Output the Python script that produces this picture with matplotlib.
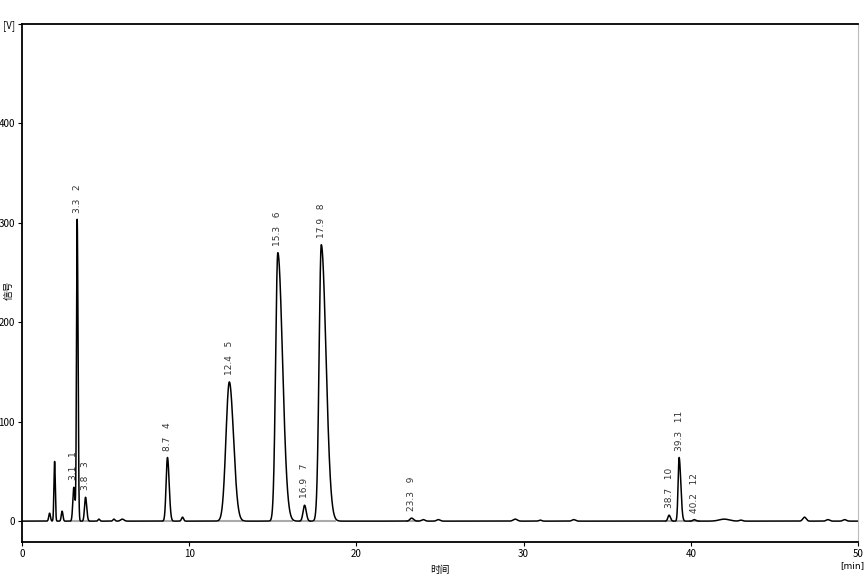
import numpy as np
import matplotlib
matplotlib.use('Agg')
import matplotlib.pyplot as plt

plt.rcParams['font.family'] = ['Noto Sans CJK SC', 'DejaVu Sans']

# labelled peaks: retention time [min], height [V], left/right width [min], number
peak_rt = [3.1, 3.3, 3.8, 8.7, 12.4, 15.3, 16.9, 17.9, 23.3, 38.7, 39.3, 40.2]
peak_h = [34, 303, 24, 64, 140, 270, 16, 278, 3, 6, 64, 1.5]
peak_wl = [0.06, 0.04, 0.06, 0.08, 0.2, 0.13, 0.09, 0.13, 0.1, 0.07, 0.06, 0.08]
peak_wr = [0.07, 0.05, 0.07, 0.1, 0.25, 0.28, 0.1, 0.28, 0.12, 0.08, 0.1, 0.1]
peak_no = [1, 2, 3, 4, 5, 6, 7, 8, 9, 10, 11, 12]

# unlabelled small peaks
small_rt = [1.65, 1.95, 2.4, 4.6, 5.5, 6.0, 9.6, 24.0, 24.9, 29.5, 31.0, 33.0, 42.0, 43.0, 46.8, 48.2, 49.2]
small_h = [8, 60, 10, 2, 2, 2, 4, 1.5, 1.5, 2, 1, 1.5, 2, 1, 4, 1.5, 1.5]
small_w = [0.05, 0.04, 0.05, 0.05, 0.06, 0.1, 0.06, 0.1, 0.1, 0.12, 0.08, 0.1, 0.3, 0.1, 0.1, 0.1, 0.1]


def bigauss(t, rt, h, wl, wr):
    w = np.where(t < rt, wl, wr)
    return h * np.exp(-0.5 * ((t - rt) / w) ** 2)


t = np.linspace(0, 50, 20001)
sig = np.zeros_like(t)
for rt, h, wl, wr in zip(peak_rt, peak_h, peak_wl, peak_wr):
    sig += bigauss(t, rt, h, wl, wr)
for rt, h, w in zip(small_rt, small_h, small_w):
    sig += bigauss(t, rt, h, w, w)

W, H = 867.0, 582.0
fig = plt.figure(figsize=(W / 100, H / 100), dpi=100)
ax = fig.add_axes([22 / W, 1 - 542 / H, 836 / W, 518 / H])

# integration baselines under labelled peaks
for rt, wl, wr in zip(peak_rt, peak_wl, peak_wr):
    ax.plot([rt - 3 * wl, rt + 3 * wr], [0, 0], color='#aaaaaa', lw=1.5, zorder=1)

ax.plot(t, sig, color='black', lw=1.1, zorder=2)

for rt, h, no in zip(peak_rt, peak_h, peak_no):
    ax.annotate('%.1f   %d' % (rt, no), xy=(rt, h), xytext=(0, 5),
                textcoords='offset points', rotation=90, ha='center', va='bottom',
                fontsize=6.5, color='#333333', family='DejaVu Sans')

ax.set_xlim(0, 50)
ax.set_ylim(-21, 500)
ax.set_xticks([0, 10, 20, 30, 40, 50])
ax.set_yticks([0, 100, 200, 300, 400, 500])
ax.set_yticklabels(['0', '100', '200', '300', '400', '[V]'])
ax.tick_params(direction='out', length=3, labelsize=7, pad=2)

ax.spines['right'].set_color('#bbbbbb')
for s in ['top', 'left', 'bottom']:
    ax.spines[s].set_linewidth(1.3)

# axis titles placed like the instrument software does
fig.text(440 / W, 1 - 570 / H, '时间', ha='center', va='center', fontsize=7)
fig.text(9 / W, 1 - 290 / H, '信号', ha='center', va='center', fontsize=7, rotation=90)
fig.text(852 / W, 1 - 566 / H, '[min]', ha='center', va='center', fontsize=6.5,
         family='DejaVu Sans')

fig.savefig('out.png', dpi=100)
